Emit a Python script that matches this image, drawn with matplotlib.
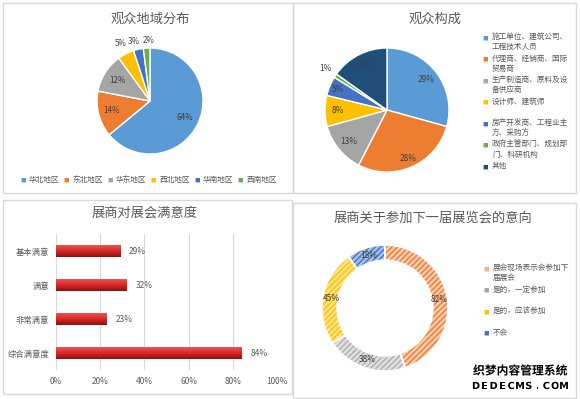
import textwrap
import numpy as np
import matplotlib.pyplot as plt
from matplotlib.patches import Rectangle
import matplotlib.patheffects as pe

plt.rcParams['font.family'] = ['Noto Sans CJK SC', 'DejaVu Sans']
plt.rcParams['hatch.linewidth'] = 1.0

# ------------------------------------------------------------------ #
# Data
# ------------------------------------------------------------------ #
region_labels = ['华北地区', '东北地区', '华东地区', '西北地区', '华南地区', '西南地区']
region_values = [64, 14, 12, 5, 3, 2]

audience_labels = ['施工单位、建筑公司、工程技术人员', '代理商、经销商、国际贸易商',
                   '生产制造商、原料及设备供应商', '设计师、建筑师',
                   '房产开发商、工程业主方、采购方', '政府主管部门、规划部门、科研机构', '其他']
audience_values = [29, 28, 13, 8, 5, 1, 15]

satis_labels = ['基本满意', '满意', '非常满意', '综合满意度']
satis_values = [29, 32, 23, 84]

intent_labels = ['展会现场表示会参加下届展会', '是的，一定参加', '是的，应该参加', '不会']
intent_values = [82, 38, 45, 18]

# ------------------------------------------------------------------ #
# Style
# ------------------------------------------------------------------ #
W, H = 580, 399
TextColor = '#595959'
LabelColor = '#404040'
BorderColor = '#d9d9d9'
PieColors1 = ['#5b9bd5', '#ed7d31', '#a5a5a5', '#ffc000', '#4472c4', '#70ad47']
PieColors2 = ['#5b9bd5', '#ed7d31', '#a5a5a5', '#ffc000', '#4472c4', '#70ad47', '#1f4e79']
RingFill = ['#f8cbad', '#e0e0e0', '#ffe38a', '#a9bfe6']
RingHatch = ['#ed7d31', '#b0b0b0', '#ffc000', '#4472c4']
RingMarker = ['#f4b183', '#a5a5a5', '#ffc000', '#4472c4']

fig = plt.figure(figsize=(W / 100, H / 100), dpi=100)
fig.patch.set_facecolor('white')


def px_axes(x0, y0, w, h):
    # axes from pixel box (top-left origin)
    return fig.add_axes([x0 / W, 1 - (y0 + h) / H, w / W, h / H])


def px(x, y):
    return x / W, 1 - y / H


def panel(x0, y0, x1, y1):
    fig.patches.append(Rectangle(px(x0, y1), (x1 - x0) / W, (y1 - y0) / H,
                                 transform=fig.transFigure, fill=False,
                                 edgecolor=BorderColor, linewidth=1.0))


def side_legend(labels, colors, x, y_start, step, size=5.5):
    for i, (lab, col) in enumerate(zip(labels, colors)):
        yy = y_start + i * step
        fig.text(*px(x, yy), '■', color=col, fontsize=4, va='center', ha='left')
        fig.text(*px(x + 10, yy - 5), '\n'.join(textwrap.wrap(lab, 10)),
                 color=TextColor, fontsize=size, va='top', ha='left', linespacing=1.35)


panel(3, 3, 293, 193)
panel(293, 3, 576, 193)
panel(3, 200, 292, 394)
panel(293, 203, 576, 398)

# ------------------------------------------------------------------ #
# Panel 1: region pie
# ------------------------------------------------------------------ #
cx, cy, r = 150, 101, 53
ax1 = px_axes(cx - r, cy - r, 2 * r, 2 * r)
wedges, _ = ax1.pie(region_values, colors=PieColors1, startangle=90, counterclock=False,
                    wedgeprops=dict(edgecolor='white', linewidth=1.0))
ax1.set_xlim(-1, 1)
ax1.set_ylim(-1, 1)
ax1.set_aspect('equal')
dist1 = [0.72, 0.75, 0.72, 1.22, 1.15, 1.15]
shift1 = [0, 0, 0, 0, -0.05, 0.04]
for w, v, d, s in zip(wedges, region_values, dist1, shift1):
    a = np.deg2rad((w.theta1 + w.theta2) / 2)
    ax1.text(d * np.cos(a) + s, d * np.sin(a), f'{v}%', ha='center', va='center',
             fontsize=5.8, color=LabelColor, clip_on=False)
fig.text(*px(150, 19), '观众地域分布', fontsize=9.5, color=TextColor, ha='center', va='center')
lx = 20
for lab, col in zip(region_labels, PieColors1):
    fig.text(*px(lx, 180), '■', color=col, fontsize=4, va='center', ha='left')
    fig.text(*px(lx + 9, 180), lab, color=TextColor, fontsize=5.5, va='center', ha='left')
    lx += 43.5

# ------------------------------------------------------------------ #
# Panel 2: audience composition pie
# ------------------------------------------------------------------ #
cx, cy, r = 387, 110, 62
ax2 = px_axes(cx - r, cy - r, 2 * r, 2 * r)
wedges, _ = ax2.pie(audience_values, colors=PieColors2, startangle=90, counterclock=False,
                    wedgeprops=dict(edgecolor='white', linewidth=1.0))
ax2.set_xlim(-1, 1)
ax2.set_ylim(-1, 1)
ax2.set_aspect('equal')
dist2 = [0.8, 0.85, 0.8, 0.8, 0.85, 1.2, 0.82]
for w, v, d in zip(wedges, audience_values, dist2):
    a = np.deg2rad((w.theta1 + w.theta2) / 2)
    ax2.text(d * np.cos(a), d * np.sin(a), f'{v}%', ha='center', va='center',
             fontsize=6, color=LabelColor, clip_on=False)
fig.text(*px(435, 19), '观众构成', fontsize=9.5, color=TextColor, ha='center', va='center')
side_legend(audience_labels, PieColors2, 482, 38, 21.5)

# ------------------------------------------------------------------ #
# Panel 3: satisfaction bars
# ------------------------------------------------------------------ #
ax3 = px_axes(56, 234, 221, 136)
ypos = np.arange(len(satis_values))
bars = ax3.barh(ypos, satis_values, height=0.36, color='#d92a2a', zorder=2)
grad = np.linspace(0, 1, 64).reshape(-1, 1)
cmap = plt.matplotlib.colors.LinearSegmentedColormap.from_list(
    'rg', ['#f25a5a', '#dc2a2a', '#8c1010'])
for b in bars:
    x0, y0 = b.get_x(), b.get_y()
    im = ax3.imshow(grad, extent=[x0, x0 + b.get_width(), y0 + b.get_height(), y0],
                    cmap=cmap, aspect='auto', zorder=3, origin='upper')
    im.set_clip_path(b)
for b, v in zip(bars, satis_values):
    ax3.text(v + 4, b.get_y() + b.get_height() / 2, f'{v}%', va='center', ha='left',
             fontsize=6, color=TextColor)
ax3.set_xlim(0, 100)
ax3.set_ylim(len(satis_values) - 0.5, -0.5)
ax3.set_xticks(np.arange(0, 101, 20))
ax3.set_xticklabels([f'{t}%' for t in range(0, 101, 20)])
ax3.set_yticks(ypos)
ax3.set_yticklabels(satis_labels)
ax3.tick_params(length=0, labelsize=6, colors=TextColor, pad=5)
ax3.grid(axis='x', color=BorderColor, linewidth=0.8, zorder=0)
for s in ax3.spines.values():
    s.set_visible(False)
ax3.set_facecolor('none')
fig.text(*px(145, 213), '展商对展会满意度', fontsize=9.5, color=TextColor, ha='center', va='center')

# ------------------------------------------------------------------ #
# Panel 4: intention donut
# ------------------------------------------------------------------ #
cx, cy, r = 385, 308, 63
ax4 = px_axes(cx - r, cy - r, 2 * r, 2 * r)
ring = dict(width=0.24)
wedges, _ = ax4.pie(intent_values, colors=RingFill, startangle=90, counterclock=False,
                    wedgeprops=dict(ring, linewidth=0))
for w, hc in zip(wedges, RingHatch):
    w.set_hatch('//////')
    w.set_edgecolor(hc)
    w.set_linewidth(0)
ax4.pie(intent_values, colors=['none'] * 4, startangle=90, counterclock=False,
        wedgeprops=dict(ring, edgecolor='white', linewidth=1.2))
ax4.set_xlim(-1, 1)
ax4.set_ylim(-1, 1)
ax4.set_aspect('equal')
for w, v in zip(wedges, intent_values):
    a = np.deg2rad((w.theta1 + w.theta2) / 2)
    ax4.text(0.87 * np.cos(a), 0.87 * np.sin(a), f'{v}%', ha='center', va='center',
             fontsize=6, color=LabelColor, clip_on=False)
fig.text(*px(433, 218), '展商关于参加下一届展览会的意向', fontsize=9.5, color=TextColor,
         ha='center', va='center')
side_legend(intent_labels, RingMarker, 483, 269, 21.5)

# watermark
outline = [pe.withStroke(linewidth=2, foreground='white')]
fig.text(*px(520, 371), '织梦内容管理系统', fontsize=8.5, fontweight='bold', color='black',
         ha='center', va='center', path_effects=outline)
mark = 'DEDECMS.COM'
for i, ch in enumerate(mark):
    fig.text(*px(476 + i * 8.8, 386), ch, fontsize=7, fontweight='bold', color='black',
             ha='center', va='center', path_effects=outline, family='DejaVu Sans')

fig.savefig('out.png', dpi=100)
